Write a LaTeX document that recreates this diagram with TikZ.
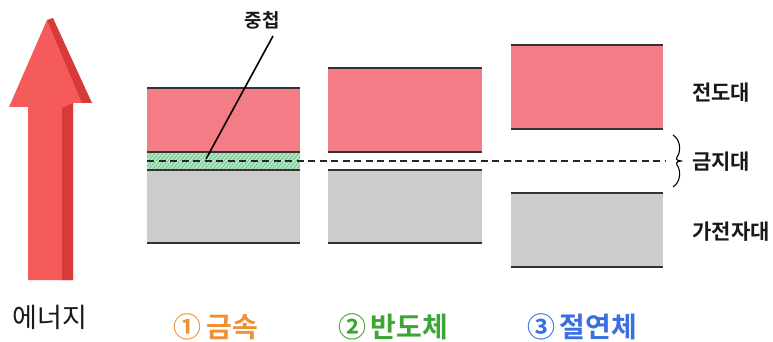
\documentclass[tikz,border=0pt]{standalone}
\usepackage{fontspec}
\setmainfont{Noto Sans CJK KR}[BoldFont={Noto Sans CJK KR Bold}]
\definecolor{cband}{HTML}{F47C86}
\definecolor{vband}{HTML}{CCCCCC}
\definecolor{ovl}{HTML}{B9E6C8}
\definecolor{ovlh}{HTML}{5DB87A}
\definecolor{arrf}{HTML}{F65B5B}
\definecolor{arrs}{HTML}{D83A3A}
\definecolor{corange}{HTML}{EE9035}
\definecolor{cgreen}{HTML}{3CA535}
\definecolor{cblue}{HTML}{3A6FE2}
\tikzset{
  edge/.style={line width=1.2pt, draw=black!80},
  lbl/.style={font=\fontsize{21}{24}\selectfont\bfseries, text=black!90, inner sep=0pt},
  cat/.style={font=\fontsize{28}{32}\selectfont\bfseries, inner sep=0pt},
}
\begin{document}
\begin{tikzpicture}[x=1pt,y=-1pt]
\useasboundingbox (0,0) rectangle (773,342);
% energy arrow
\fill[arrf] (47,20) -- (92,103) -- (73,103) -- (73,280) -- (28,280) -- (28,107) -- (9,107) -- cycle;
\fill[arrs] (47,20) -- (53,18) -- (92,103) -- (82,103) -- cycle;
\fill[arrs] (62,108) -- (73,103) -- (73,280) -- (62,280) -- cycle;
\node[lbl, font=\fontsize{27}{30}\selectfont] (energy) at (50,317) {에너지};
% metal
\fill[vband] (147,170) rectangle (300,243);
\fill[cband] (147,88) rectangle (300,152);
\fill[ovl] (147,152) rectangle (300,170);
\begin{scope}
\clip (147,152) rectangle (300,170);
\foreach \i in {0,4,...,180} \draw[ovlh, line width=0.6pt] (130+\i,172) -- (150+\i,150);
\end{scope}
\draw[edge] (147,88) -- (300,88);
\draw[edge] (147,152) -- (300,152);
\draw[edge] (147,170) -- (300,170);
\draw[edge] (147,243) -- (300,243);
% semiconductor
\fill[cband] (328,68) rectangle (482,152);
\fill[vband] (328,170) rectangle (482,243);
\draw[edge] (328,68) -- (482,68);
\draw[edge] (328,152) -- (482,152);
\draw[edge] (328,170) -- (482,170);
\draw[edge] (328,243) -- (482,243);
% insulator
\fill[cband] (511,45) rectangle (663,129);
\fill[vband] (511,193) rectangle (663,267);
\draw[edge] (511,45) -- (663,45);
\draw[edge] (511,129) -- (663,129);
\draw[edge] (511,193) -- (663,193);
\draw[edge] (511,267) -- (663,267);
% fermi dashed line
\coordinate (dl) at (147,161);
\coordinate (dr) at (666,161);
\draw[black!85, line width=1.4pt, dash pattern=on 7pt off 4.5pt] (dl) -- (dr);
% overlap label
\node[lbl, font=\fontsize{19}{22}\selectfont\bfseries] (ovlab) at (262,20) {중첩};
\coordinate (ovpt) at (206,159);
\draw[black, line width=1.6pt] (273,36) -- (ovpt);
% brace
\draw[black, line width=1.1pt] (673,135) .. controls (681,140) and (681,152) .. (677,157) .. controls (675,160) and (679,161) .. (681,161)
  .. controls (679,161) and (675,162) .. (677,165) .. controls (681,170) and (681,182) .. (673,187);
% right labels
\node[lbl] (cb) at (721,93) {전도대};
\node[lbl] (gap) at (721,162) {금지대};
\node[lbl] (vb) at (731,232) {가전자대};
% bottom labels
\node[cat, text=corange] (m) at (216,327) {①\,금속};
\node[cat, text=cgreen] (s) at (393,327) {②\,반도체};
\node[cat, text=cblue] (ins) at (582,327) {③\,절연체};
\end{tikzpicture}
\end{document}
